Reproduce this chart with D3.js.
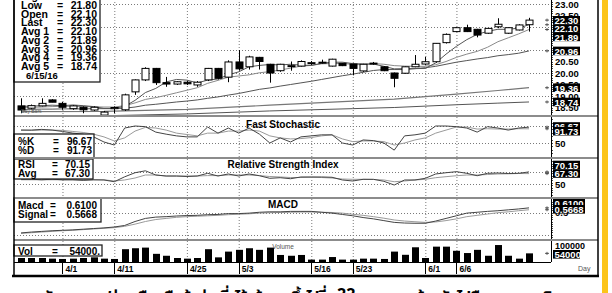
<!DOCTYPE html>
<html lang="en">
<head>
<meta charset="utf-8">
<title>Daily bars with indicators</title>
<script src="https://d3js.org/d3.v7.min.js"></script>
<style>
  body { margin: 0; background: #fff; }
  svg { display: block; font-family: "Liberation Sans", Arial, sans-serif; }
  .b { font-weight: bold; }
  .grid { stroke: #7a7a7a; stroke-width: 1; stroke-dasharray: 1,2; fill: none; }
</style>
</head>
<body>
<svg id="chart" width="612" height="293"></svg>
<script>
// ---- data ----
const tickDays = [4, 9, 16, 21, 28, 32, 39, 42];
const tickLabels = ["4/1", "4/11", "4/25", "5/3", "5/16", "5/23", "6/1", "6/6"];

const opens = [18.57,18.47,18.57,18.83,18.68,18.45,18.51,18.39,18.17,18.45,
  18.40,19.18,19.70,20.20,19.58,19.52,19.60,19.48,19.70,20.20,
  19.82,20.48,20.27,20.68,20.38,20.10,20.30,20.30,20.44,20.45,
  20.30,20.42,20.39,20.09,20.42,20.27,20.00,19.99,20.27,20.39,
  20.49,21.32,21.80,21.97,21.90,21.73,22.01,21.73,21.87,22.10];
const highs = [18.90,18.63,18.90,18.86,18.74,18.60,18.55,18.55,18.35,18.55,
  19.10,19.72,20.25,20.22,19.83,19.65,19.65,19.65,20.22,20.22,
  20.55,21.00,20.75,20.70,20.40,20.40,20.50,20.55,20.52,20.58,
  20.62,20.44,20.40,20.40,20.48,20.30,20.02,20.28,20.78,20.70,
  21.30,21.72,22.00,22.10,21.92,21.96,22.38,21.98,22.12,22.40];
const lows = [18.25,18.42,18.55,18.73,18.40,18.40,18.25,18.35,18.15,18.25,
  18.35,19.05,19.65,19.48,19.40,19.48,19.48,19.40,19.65,19.72,
  19.60,20.10,20.15,20.15,19.58,20.05,20.10,20.28,20.35,20.40,
  20.28,20.30,19.90,20.05,20.35,20.08,19.38,19.97,20.25,20.35,
  20.45,21.28,21.78,21.78,21.55,21.70,21.95,21.70,21.85,21.80];
const closes = [18.39,18.58,18.68,18.73,18.51,18.57,18.40,18.51,18.30,18.50,
  19.05,19.70,20.20,19.58,19.52,19.62,19.53,19.60,20.20,19.77,
  20.48,20.18,20.70,20.50,20.00,20.38,20.32,20.50,20.45,20.47,
  20.60,20.32,20.20,20.38,20.43,20.10,19.77,20.27,20.38,20.49,
  21.29,21.68,21.97,21.80,21.65,21.94,22.12,21.97,22.09,22.30];

const avg1 = [18.55,18.56,18.58,18.60,18.58,18.61,18.58,18.54,18.46,18.46,
  18.55,18.81,19.15,19.33,19.61,19.72,19.69,19.57,19.69,19.74,
  19.92,20.05,20.27,20.33,20.37,20.35,20.38,20.34,20.33,20.42,
  20.47,20.47,20.41,20.39,20.39,20.29,20.18,20.19,20.19,20.20,
  20.44,20.82,21.16,21.45,21.68,21.81,21.90,21.90,21.95,22.10];
const avg2 = [18.50,18.51,18.52,18.54,18.55,18.55,18.54,18.53,18.52,18.52,
  18.58,18.70,18.85,18.93,19.03,19.14,19.25,19.36,19.55,19.68,
  19.82,19.87,19.92,20.01,20.06,20.13,20.21,20.30,20.33,20.40,
  20.41,20.42,20.37,20.36,20.41,20.38,20.32,20.30,20.29,20.29,
  20.36,20.50,20.68,20.82,20.94,21.12,21.36,21.53,21.70,21.89];
const avg3 = [18.42,18.42,18.43,18.43,18.44,18.44,18.44,18.45,18.45,18.45,
  18.47,18.52,18.60,18.64,18.69,18.74,18.78,18.83,18.90,18.96,
  19.04,19.11,19.20,19.29,19.35,19.43,19.50,19.57,19.64,19.72,
  19.80,19.88,19.95,20.03,20.11,20.15,20.15,20.15,20.19,20.23,
  20.29,20.38,20.47,20.54,20.61,20.67,20.75,20.80,20.86,20.96];
const avg4Days = [0, 8, 16, 24, 32, 36, 42, 46, 49];
const avg4 = [18.32, 18.33, 18.42, 18.60, 18.78, 18.86, 19.08, 19.24, 19.36];
const avg5Days = [0, 8, 16, 24, 32, 36, 42, 46, 49];
const avg5 = [18.10, 18.14, 18.22, 18.35, 18.45, 18.50, 18.62, 18.69, 18.74];

const stochK = [88,88,90,88,84,79,76,68,53,44,
  94,100,98,82,76,71,68,68,97,79,
  94,79,94,76,50,65,53,68,71,74,
  74,50,44,59,57,50,29,71,74,79,
  100,100,98,94,82,98,94,88,94,96.67];
const stochD = [88,87,88,88,87,84,81,76,68,56,
  65,85,96,94,88,79,75,71,79,79,
  85,85,88,85,71,65,62,63,66,71,
  74,62,54,56,56,54,44,50,59,65,
  79,88,97,97,91,92,91,91,92,91.73];

const rsi = [58,58,57,58,57,57,56,57,56.7,53.8,
  62,68.8,72,65,63.3,63.3,62.5,63.3,67.8,63.3,
  66.7,63.3,66.7,63.8,59.5,60.5,58.8,61.7,61.7,61.7,
  61.2,56.7,55,57.8,57.8,54.5,48.3,56.7,56.7,59.5,
  66.7,68.8,70.5,67.8,63.8,67.8,68.3,67.5,67.8,70.15];
const rsiAvg = [57,57,57,57,57,57,57,57,57,55,
  56.7,60,65,65,63.3,63.3,63.3,63.3,64,64,
  65,65,65,64,62.5,61.7,60.8,60.8,61.2,60.8,
  60,58.3,57.8,57.8,57.5,56.7,53.8,55,56.7,57.8,
  60.5,62.2,63.8,65,65,65.8,66.7,67,67.5,67.30];

const macd = [0.04,0.06,0.075,0.09,0.10,0.11,0.125,0.14,0.155,0.175,
  0.21,0.30,0.37,0.40,0.41,0.425,0.435,0.44,0.455,0.46,
  0.48,0.48,0.49,0.51,0.52,0.52,0.53,0.53,0.53,0.51,
  0.49,0.46,0.43,0.39,0.36,0.32,0.28,0.265,0.26,0.26,
  0.31,0.37,0.43,0.49,0.51,0.53,0.545,0.565,0.585,0.61];
const signal = [0.03,0.045,0.06,0.075,0.09,0.10,0.115,0.13,0.145,0.16,
  0.19,0.24,0.30,0.345,0.37,0.395,0.41,0.42,0.43,0.44,
  0.455,0.465,0.475,0.49,0.50,0.505,0.51,0.515,0.515,0.51,
  0.505,0.49,0.465,0.44,0.41,0.375,0.335,0.31,0.295,0.28,
  0.29,0.32,0.36,0.41,0.44,0.47,0.50,0.52,0.545,0.5668];

const volume = [25000,25000,25000,21000,19000,21000,25000,29000,21000,19000,
  80000,86000,90000,51000,39000,25000,21000,25000,80000,29000,
  65000,76000,86000,76000,90000,44000,39000,44000,15000,15000,
  31000,15000,15000,21000,21000,19000,65000,45000,92000,25000,
  96000,96000,70000,56000,76000,39000,106000,39000,21000,54000];

const priceLegend = [["High", "22.40"], ["Low", "21.80"], ["Open", "22.10"], ["Last", "22.30"],
  ["Avg 1", "22.10"], ["Avg 2", "21.89"], ["Avg 3", "20.96"], ["Avg 4", "19.36"], ["Avg 5", "18.74"]];
// right-axis price labels that are not hidden under the value boxes
const priceTicks = [18.5, 19, 19.5, 20, 20.5, 22.5, 23];

// ---- layout ----
const svg = d3.select("#chart");
const L = 14, PR = 551, FR = 598;
const x = d3.scaleLinear().domain([0, 49]).range([21, 529]);

const panels = {
  price: [-10, 115], stoch: [117, 157], rsi: [159, 197], macd: [199, 239], vol: [241, 262]
};
const yP = d3.scaleLinear().domain([18.5, 23]).range([107.5, 4]);
const yS = d3.scaleLinear().domain([50, 100]).range([143, 126]);
const yR = d3.scaleLinear().domain([50, 70]).range([184, 172]);
const yM = d3.scaleLinear().domain([0, 0.5]).range([234.7, 212.7]);
const yV = d3.scaleLinear().domain([0, 100000]).range([262, 246]);

const defs = svg.append("defs");
Object.entries(panels).forEach(([k, p]) => {
  defs.append("clipPath").attr("id", "clip-" + k)
    .append("rect").attr("x", L).attr("y", p[0]).attr("width", PR - L).attr("height", p[1] - p[0]);
});

// grid
function grid(key, yScale, levels) {
  const p = panels[key];
  const g = svg.append("g").attr("clip-path", "url(#clip-" + key + ")");
  g.selectAll("line.v").data(tickDays).enter().append("line").attr("class", "grid")
    .attr("x1", d => x(d) + 0.5).attr("x2", d => x(d) + 0.5).attr("y1", p[0]).attr("y2", p[1]);
  g.selectAll("line.h").data(levels).enter().append("line").attr("class", "grid")
    .attr("x1", L).attr("x2", PR).attr("y1", d => Math.round(yScale(d)) + 0.5).attr("y2", d => Math.round(yScale(d)) + 0.5);
}
grid("price", yP, [19, 20, 21, 22, 23]);
grid("stoch", yS, [50, 100]);
grid("rsi", yR, [50, 70]);
grid("macd", yM, [0, 0.5]);
grid("vol", yV, []);

// price panel
const pg = svg.append("g").attr("clip-path", "url(#clip-price)");
const lineP = d3.line().x((d, i) => x(i)).y(d => yP(d));
[[avg3, "#555", 1], [avg2, "#8a8a8a", 1], [avg1, "#555", 1]].forEach(s => {
  pg.append("path").attr("d", lineP(s[0])).attr("fill", "none").attr("stroke", s[1]).attr("stroke-width", s[2]);
});
const lineSparse = (days, vals) => d3.line().x((d, i) => x(days[i])).y(d => yP(d))(vals);
pg.append("path").attr("d", lineSparse(avg4Days, avg4)).attr("fill", "none").attr("stroke", "#777").attr("stroke-width", 1.2);
pg.append("path").attr("d", lineSparse(avg5Days, avg5)).attr("fill", "none").attr("stroke", "#555").attr("stroke-width", 1);

const candles = pg.selectAll("g.c").data(d3.range(opens.length)).enter().append("g");
candles.append("line")
  .attr("x1", i => Math.round(x(i)) + 0.5).attr("x2", i => Math.round(x(i)) + 0.5)
  .attr("y1", i => yP(highs[i])).attr("y2", i => yP(lows[i]))
  .attr("stroke", "#000").attr("stroke-width", 1);
candles.append("rect")
  .attr("x", i => Math.round(x(i)) - 3)
  .attr("y", i => yP(Math.max(opens[i], closes[i])))
  .attr("width", 7)
  .attr("height", i => Math.max(1, Math.abs(yP(opens[i]) - yP(closes[i]))))
  .attr("fill", i => closes[i] < opens[i] ? "#000" : "#fff")
  .attr("stroke", "#000").attr("stroke-width", 1);

// indicator lines
function lines(key, yScale, series) {
  const g = svg.append("g").attr("clip-path", "url(#clip-" + key + ")");
  const ln = d3.line().x((d, i) => x(i)).y(d => yScale(d));
  series.forEach(s => g.append("path").attr("d", ln(s[0])).attr("fill", "none")
    .attr("stroke", s[1]).attr("stroke-width", 1));
}
lines("stoch", yS, [[stochD, "#9a9a9a"], [stochK, "#444"]]);
lines("rsi", yR, [[rsiAvg, "#9a9a9a"], [rsi, "#444"]]);
lines("macd", yM, [[signal, "#9a9a9a"], [macd, "#444"]]);

// volume bars
svg.append("g").attr("clip-path", "url(#clip-vol)")
  .selectAll("rect").data(volume).enter().append("rect")
  .attr("x", (d, i) => Math.round(x(i)) - 3)
  .attr("y", d => yV(d))
  .attr("width", 7)
  .attr("height", d => yV(0) - yV(d))
  .attr("fill", "#000");

// titles
const titles = [["Fast Stochastic", 124], ["Relative Strength Index", 164.5], ["MACD", 204.5]];
titles.forEach(t => svg.append("text").attr("class", "b").attr("x", 283).attr("y", t[1])
  .attr("text-anchor", "middle").attr("dominant-baseline", "central").attr("font-size", 10).text(t[0]));
svg.append("text").attr("x", 283).attr("y", 246.5).attr("text-anchor", "middle")
  .attr("dominant-baseline", "central").attr("font-size", 6.5).attr("fill", "#555").text("Volume");
svg.append("text").attr("x", 21).attr("y", 112.5).attr("font-size", 5).attr("fill", "#555").text("Day Bars");

// legend boxes
function legend(x0, y0, w, h, rows, labelX, eqX, valX, rowY, fs) {
  const g = svg.append("g");
  g.append("rect").attr("x", x0).attr("y", y0).attr("width", w).attr("height", h)
    .attr("fill", "#fff").attr("stroke", "#222").attr("stroke-width", 1.3);
  rows.forEach((r, i) => {
    const yy = rowY[i];
    g.append("text").attr("class", "b").attr("x", labelX).attr("y", yy).attr("dominant-baseline", "central")
      .attr("font-size", fs).text(r[0]);
    g.append("text").attr("class", "b").attr("x", eqX).attr("y", yy).attr("dominant-baseline", "central")
      .attr("font-size", fs).text("=");
    g.append("text").attr("class", "b").attr("x", valX).attr("y", yy).attr("dominant-baseline", "central")
      .attr("text-anchor", "end").attr("font-size", fs).text(r[1]);
  });
  return g;
}
const lg = legend(L, -20, 86, 102, priceLegend, 21, 57, 97, priceLegend.map((d, i) => -3.7 + i * 8.7), 10.5);
lg.append("text").attr("class", "b").attr("x", 26).attr("y", 75.3).attr("dominant-baseline", "central")
  .attr("font-size", 9.5).text("6/15/16");
legend(L, 134, 80, 24, [["%K", "96.67"], ["%D", "91.73"]], 18, 53, 92, [141, 150.5], 10);
legend(L, 159, 79, 20, [["RSI", "70.15"], ["Avg", "67.30"]], 18, 52, 90, [164.5, 173.5], 10);
legend(L, 198, 87, 24, [["Macd", "0.6100"], ["Signal", "0.5668"]], 18, 50, 97, [205, 214], 10);
legend(L, 245, 88, 11, [["Vol", "54000."]], 18, 52, 100, [251], 10);

// right axis
svg.append("line").attr("x1", PR + 0.5).attr("x2", PR + 0.5).attr("y1", -10).attr("y2", 262).attr("stroke", "#000");
svg.append("g").selectAll("line").data(d3.range(183, 232).map(d => d / 10)).enter().append("line")
  .attr("x1", PR).attr("x2", PR + 2).attr("y1", d => Math.round(yP(d)) + 0.5).attr("y2", d => Math.round(yP(d)) + 0.5)
  .attr("stroke", "#000").attr("stroke-width", 0.7);
[[yS, d3.range(20, 121, 10), "stoch"], [yR, d3.range(20, 91, 4), "rsi"], [yM, d3.range(-0.1, 0.95, 0.05), "macd"]].forEach(a => {
  const p = panels[a[2]];
  svg.append("g").selectAll("line").data(a[1].filter(v => a[0](v) > p[0] + 1 && a[0](v) < p[1] - 1)).enter().append("line")
    .attr("x1", PR).attr("x2", PR + 2).attr("y1", d => Math.round(a[0](d)) + 0.5).attr("y2", d => Math.round(a[0](d)) + 0.5)
    .attr("stroke", "#000").attr("stroke-width", 0.7);
});

svg.selectAll("text.pt").data(priceTicks).enter().append("text").attr("class", "b")
  .attr("x", 555).attr("y", d => yP(d)).attr("dominant-baseline", "central").attr("font-size", 9.5).text(d => d.toFixed(2));
svg.append("text").attr("class", "b").attr("x", 555).attr("y", yS(50)).attr("dominant-baseline", "central").attr("font-size", 9.5).text("50");
svg.append("text").attr("class", "b").attr("x", 555).attr("y", yR(50)).attr("dominant-baseline", "central").attr("font-size", 9.5).text("50");
svg.append("text").attr("class", "b").attr("x", 555).attr("y", yM(0.5)).attr("dominant-baseline", "central").attr("font-size", 9.5).text("0.5");
svg.append("text").attr("class", "b").attr("x", 555).attr("y", yV(100000)).attr("dominant-baseline", "central").attr("font-size", 9).text("100000");

// boxed last values: [text, value y, label y]
const boxes = [
  ["22.30", yP(22.30), 20.3], ["22.10", yP(22.10), 28.6], ["21.89", yP(21.89), 36.9],
  ["20.96", yP(20.96), yP(20.96)], ["19.36", yP(19.36), yP(19.36)], ["18.74", yP(18.74), yP(18.74)],
  ["96.67", yS(96.67), 126.5], ["91.73", yS(91.73), 131.2],
  ["70.15", yR(70.15), 165], ["67.30", yR(67.30), 173.5],
  ["0.6100", yM(0.61), 203.3], ["0.5668", yM(0.5668), 209.3],
  ["54000", yV(54000), 254.3]
];
const bg = svg.append("g");
boxes.forEach(b => {
  bg.append("path").attr("d", `M545,${b[1]}h4M547,${b[1] - 1.5}v3`).attr("stroke", "#333").attr("stroke-width", 0.8);
  bg.append("rect").attr("x", 553).attr("y", b[2] - 4.3).attr("width", b[0].length > 5 ? 32 : 27).attr("height", 8.6).attr("fill", "#000");
  bg.append("text").attr("class", "b").attr("x", 554.5).attr("y", b[2] + 0.3).attr("dominant-baseline", "central")
    .attr("font-size", 9.5).attr("fill", "#fff").text(b[0]);
});

// panel separators and frame
[116, 158, 198, 240].forEach(y => svg.append("line").attr("x1", L).attr("x2", FR).attr("y1", y).attr("y2", y)
  .attr("stroke", "#8c8c8c").attr("stroke-width", 2));
svg.append("line").attr("x1", L).attr("x2", PR).attr("y1", 262.5).attr("y2", 262.5).attr("stroke", "#000");
svg.append("line").attr("x1", L).attr("x2", L).attr("y1", -10).attr("y2", 276).attr("stroke", "#000").attr("stroke-width", 1.5);
svg.append("line").attr("x1", FR).attr("x2", FR).attr("y1", -10).attr("y2", 276).attr("stroke", "#000").attr("stroke-width", 1.5);
svg.append("line").attr("x1", 12).attr("x2", FR + 1).attr("y1", 276).attr("y2", 276).attr("stroke", "#000").attr("stroke-width", 2.5);

// date axis
const dg = svg.append("g");
dg.selectAll("line").data(tickDays).enter().append("line")
  .attr("x1", d => Math.round(x(d)) + 0.5).attr("x2", d => Math.round(x(d)) + 0.5).attr("y1", 262).attr("y2", 274)
  .attr("stroke", "#000");
dg.selectAll("text").data(tickDays).enter().append("text").attr("class", "b")
  .attr("x", d => x(d) + 3).attr("y", 268.5).attr("dominant-baseline", "central").attr("font-size", 8.5)
  .text((d, i) => tickLabels[i]);
svg.append("text").attr("x", 578).attr("y", 268.5).attr("dominant-baseline", "central").attr("font-size", 7)
  .attr("fill", "#555").text("Day");

// yellow edge
svg.append("rect").attr("x", 602).attr("y", 0).attr("width", 6).attr("height", 293).attr("fill", "#fcc419");

// caption (mostly below the bottom edge, only the tops show)
const cap = svg.append("g").attr("font-family", "'Noto Sans Thai', Loma, Garuda, 'Tlwg Typo', 'DejaVu Sans', sans-serif")
  .attr("font-size", 16).attr("font-weight", "bold");
cap.append("text").attr("x", 40).attr("y", 302.5).attr("textLength", 285).text("ลักษณะกราฟล่าสุด ยืนเหนือเส้นค่าเฉลี่ยได้แล้ว ราคาขึ้นไปที่");
cap.append("text").attr("x", 337).attr("y", 300).text("22");
cap.append("text").attr("x", 362).attr("y", 302.5).attr("textLength", 200).text("บาท แนวต้านถัดไปคือจุดสูงสุดเดิม");
</script>
</body>
</html>
